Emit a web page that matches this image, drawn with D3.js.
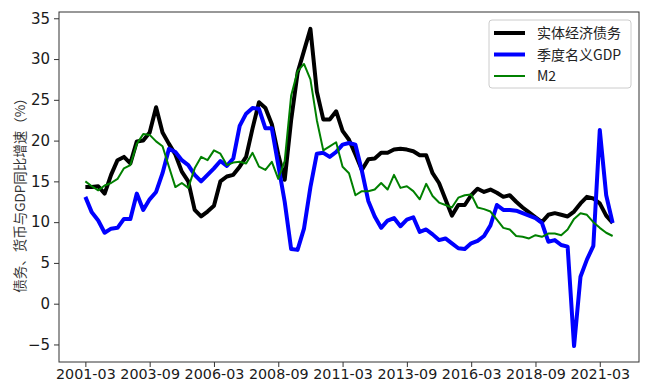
<!DOCTYPE html>
<html>
<head>
<meta charset="utf-8">
<script src="https://cdn.jsdelivr.net/npm/d3@7"></script>
<style>
  body { margin: 0; background: #fff; }
  #chart text { font-family: "DejaVu Sans", sans-serif; }
</style>
</head>
<body>
<div id="chart"></div>
<script>
// quarterly series, 2001Q1 .. 2021Q3 (index 0..82)
var debt = [14.3, 14.3, 14.4, 13.5, 15.8, 17.6, 18.0, 17.2, 19.9, 20.0,
  21.0, 24.1, 21.0, 19.6, 18.3, 16.2, 15.0, 11.5, 10.7, 11.3,
  12.0, 15.0, 15.6, 15.8, 16.8, 18.0, 21.5, 24.7, 24.0, 22.0,
  18.3, 15.2, 22.5, 28.3, 31.0, 33.7, 26.0, 22.6, 22.6, 23.6,
  21.2, 20.1, 18.3, 16.4, 17.7, 17.8, 18.5, 18.5, 18.9, 19.0,
  18.9, 18.7, 18.2, 18.2, 16.0, 14.8, 12.8, 10.8, 12.1, 12.1,
  13.3, 14.1, 13.7, 14.0, 13.6, 13.1, 13.3, 12.5, 11.8, 11.2,
  10.6, 10.0, 10.9, 11.1, 10.9, 10.7, 11.3, 12.3, 13.1, 12.9,
  12.3, 10.8, 9.9]

var gdp = [13.1, 11.2, 10.2, 8.7, 9.2, 9.3, 10.4, 10.4, 13.5, 11.5,
  12.8, 13.7, 16.0, 19.0, 18.6, 17.6, 17.0, 15.8, 15.0, 15.8,
  16.6, 17.5, 16.9, 17.8, 21.8, 23.3, 24.0, 23.9, 21.5, 21.5,
  17.0, 12.5, 6.7, 6.6, 9.2, 14.3, 18.4, 18.5, 18.0, 18.6,
  19.5, 19.7, 19.5, 16.3, 12.6, 10.7, 9.3, 10.2, 10.5, 9.5,
  10.3, 10.6, 8.8, 9.1, 8.5, 7.8, 8.0, 7.4, 6.8, 6.7,
  7.4, 7.7, 8.3, 9.6, 12.1, 11.5, 11.5, 11.4, 11.1, 10.8,
  10.5, 9.9, 7.6, 7.8, 7.2, 7.0, -5.2, 3.3, 5.4, 7.1,
  21.3, 13.3, 9.9]

var m2 = [15.0, 14.4, 13.9, 14.5, 14.8, 15.3, 16.6, 17.0, 19.6, 20.8,
  20.7, 19.9, 19.3, 16.8, 14.3, 14.8, 14.2, 16.6, 18.0, 17.6,
  18.8, 18.4, 17.0, 17.3, 17.4, 17.2, 18.5, 16.8, 16.4, 17.4,
  15.3, 17.5, 25.5, 28.5, 29.4, 27.5, 22.5, 18.8, 19.3, 19.8,
  16.8, 16.0, 13.3, 13.8, 13.8, 14.0, 14.8, 14.0, 15.8, 14.2,
  14.4, 13.8, 12.8, 14.7, 13.2, 12.4, 12.1, 11.8, 13.0, 13.3,
  13.4, 11.8, 11.6, 11.3, 10.3, 9.3, 9.1, 8.3, 8.2, 8.0,
  8.4, 8.2, 8.6, 8.6, 8.4, 9.1, 10.4, 11.1, 10.9, 10.0,
  9.3, 8.7, 8.3]

var seriesNames = ['实体经济债务', '季度名义GDP', 'M2']
var seriesColors = ['#000000', '#0000ff', '#008000']
var seriesWidths = [4, 4, 2]

// x tick every 10 quarters
var xTickIndex = [0, 10, 20, 30, 40, 50, 60, 70, 80]
var xTickLabels = ['2001-03', '2003-09', '2006-03', '2008-09', '2011-03',
  '2013-09', '2016-03', '2018-09', '2021-03']
var yTicks = [-5, 0, 5, 10, 15, 20, 25, 30, 35]

const width = 648
const height = 383
const plotLeft = 59, plotRight = 639, plotTop = 12, plotBottom = 362

var svg = d3.select('#chart')
  .append('svg')
  .attr('width', width)
  .attr('height', height)

var x = d3.scaleLinear().domain([-4.1, 86.1]).range([plotLeft, plotRight])
var y = d3.scaleLinear().domain([-7.15, 35.77]).range([plotBottom, plotTop])

// frame
svg.append('rect')
  .attr('x', plotLeft).attr('y', plotTop)
  .attr('width', plotRight - plotLeft).attr('height', plotBottom - plotTop)
  .attr('fill', 'none').attr('stroke', '#333').attr('stroke-width', 1)

// axes
var xAxis = d3.axisBottom(x)
  .tickValues(xTickIndex)
  .tickFormat(function (d, i) { return xTickLabels[i] })
  .tickSize(5).tickPadding(2)
var yAxis = d3.axisLeft(y)
  .tickValues(yTicks)
  .tickFormat(function (d) { return d < 0 ? '\u2212' + Math.abs(d) : d })
  .tickSize(5).tickPadding(4)

var gx = svg.append('g').attr('transform', 'translate(0,' + plotBottom + ')').call(xAxis)
var gy = svg.append('g').attr('transform', 'translate(' + plotLeft + ',0)').call(yAxis)
;[gx, gy].forEach(function (g) {
  g.select('.domain').remove()
  g.selectAll('.tick line').attr('stroke', '#333')
  g.selectAll('.tick text').attr('fill', '#1a1a1a')
})
gx.selectAll('.tick text').style('font-size', '14.3px')
gy.selectAll('.tick text').style('font-size', '15px')

// y label
svg.append('text')
  .attr('transform', 'translate(25,' + ((plotTop + plotBottom) / 2 + 5) + ') rotate(-90)')
  .attr('text-anchor', 'middle')
  .style('font-family', '"Noto Sans CJK SC", sans-serif')
  .style('font-size', '13.5px')
  .attr('fill', '#333')
  .text('债务、货币与GDP同比增速（%）')

// lines
var line = d3.line()
  .x(function (d, i) { return x(i) })
  .y(function (d) { return y(d) })

;[debt, gdp, m2].forEach(function (data, k) {
  svg.append('path')
    .datum(data)
    .attr('d', line)
    .attr('fill', 'none')
    .attr('stroke', seriesColors[k])
    .attr('stroke-width', seriesWidths[k])
    .attr('stroke-linejoin', 'round')
})

// legend
var legend = svg.append('g')
legend.append('rect')
  .attr('x', 489).attr('y', 20).attr('width', 142).attr('height', 68)
  .attr('rx', 3)
  .attr('fill', '#fff').attr('fill-opacity', 0.85)
  .attr('stroke', '#ccc')
seriesNames.forEach(function (name, k) {
  var ly = 33 + k * 21.5
  legend.append('line')
    .attr('x1', 494).attr('x2', 525).attr('y1', ly).attr('y2', ly)
    .attr('stroke', seriesColors[k]).attr('stroke-width', seriesWidths[k])
  legend.append('text')
    .attr('x', 537).attr('y', ly + 5)
    .style('font-family', '"Noto Sans CJK SC", sans-serif')
    .style('font-size', '14px')
    .attr('fill', '#222')
    .text(name)
})
</script>
</body>
</html>
